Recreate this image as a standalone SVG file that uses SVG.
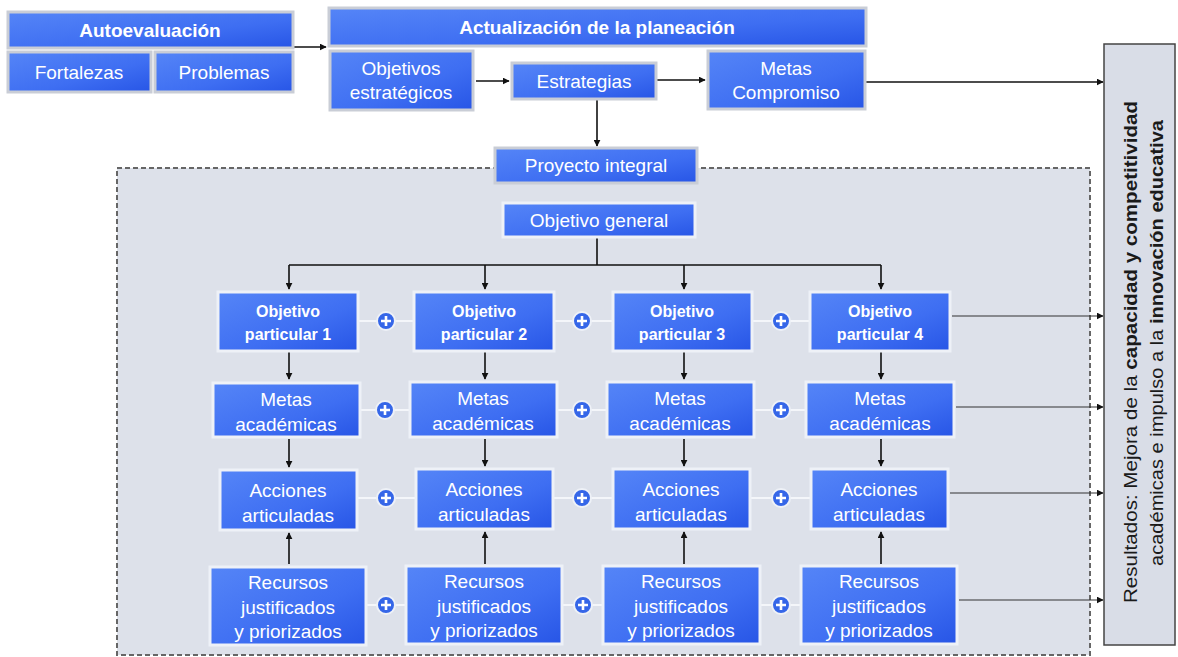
<svg xmlns="http://www.w3.org/2000/svg" width="1178" height="657" viewBox="0 0 1178 657">
<defs>
<linearGradient id="bg" x1="0" y1="0" x2="1" y2="1">
<stop offset="0" stop-color="#5585f7"/>
<stop offset="0.6" stop-color="#3e6ef2"/>
<stop offset="1" stop-color="#2755e6"/>
</linearGradient>
<marker id="ah" viewBox="0 0 10 10" refX="9" refY="5" markerWidth="7" markerHeight="7" markerUnits="userSpaceOnUse" orient="auto">
<path d="M0,0 L10,5 L0,10 z" fill="#111"/>
</marker>
<g id="plus">
<circle r="9" fill="#3566e8" stroke="#eef1f7" stroke-width="2"/>
<path d="M-5,0 H5 M0,-5 V5" stroke="#fff" stroke-width="2.6"/>
</g>
<style>
.b{fill:url(#bg);stroke:#eef1f7;stroke-width:3}
.h{fill:url(#bg);stroke:#c9cdd6;stroke-width:3}
text{font-family:"Liberation Sans",Arial,sans-serif;fill:#fff;text-anchor:middle;font-size:19px}
.bd{font-weight:bold}
.sm{font-size:16px;font-weight:bold}
.c{fill:none;stroke:#111;stroke-width:1.6}
.cg{fill:none;stroke:#333;stroke-width:1.2}
.w{stroke:#f4f6fa;stroke-width:2}
.r{fill:#1a1a1a;text-anchor:middle;font-size:18px}
</style>
</defs>
<rect width="1178" height="657" fill="#fff"/>
<rect id="region" x="117" y="168" width="973" height="487" fill="#dde1ea" stroke="#666" stroke-width="2" stroke-dasharray="5,3"/>

<g id="connectors">
<path class="c" d="M293,47 H326" marker-end="url(#ah)"/>
<path class="c" d="M476,81 H509" marker-end="url(#ah)"/>
<path class="c" d="M657,80 H705" marker-end="url(#ah)"/>
<path class="c" d="M866,82 H1103" marker-end="url(#ah)"/>
<path class="c" d="M597,99 V146" marker-end="url(#ah)"/>
<path class="c" d="M597,238 V265 M289,265 H881"/>
<path class="c" d="M289,265 V289" marker-end="url(#ah)"/>
<path class="c" d="M485,265 V289" marker-end="url(#ah)"/>
<path class="c" d="M684,265 V289" marker-end="url(#ah)"/>
<path class="c" d="M881,265 V289" marker-end="url(#ah)"/>
<path class="c" d="M289,352 V379" marker-end="url(#ah)"/>
<path class="c" d="M485,352 V379" marker-end="url(#ah)"/>
<path class="c" d="M684,352 V379" marker-end="url(#ah)"/>
<path class="c" d="M881,352 V379" marker-end="url(#ah)"/>
<path class="c" d="M289,439 V467" marker-end="url(#ah)"/>
<path class="c" d="M485,439 V466" marker-end="url(#ah)"/>
<path class="c" d="M684,439 V466" marker-end="url(#ah)"/>
<path class="c" d="M881,439 V466" marker-end="url(#ah)"/>
<path class="c" d="M289,564 V533" marker-end="url(#ah)"/>
<path class="c" d="M485,564 V532" marker-end="url(#ah)"/>
<path class="c" d="M684,564 V532" marker-end="url(#ah)"/>
<path class="c" d="M881,564 V532" marker-end="url(#ah)"/>
<path class="cg" d="M952,316 H1103" marker-end="url(#ah)"/>
<path class="cg" d="M956,407 H1103" marker-end="url(#ah)"/>
<path class="cg" d="M950,493 H1103" marker-end="url(#ah)"/>
<path class="cg" d="M959,600 H1103" marker-end="url(#ah)"/>
<path class="w" d="M358,321 H414 M554,321 H613 M752,321 H810"/>
<path class="w" d="M360,410 H410 M557,410 H607 M754,410 H806"/>
<path class="w" d="M357,498 H416 M553,498 H613 M750,498 H811"/>
<path class="w" d="M366,605 H406 M562,605 H603 M760,605 H801"/>
</g>

<g id="autoevaluacion">
<rect class="h" x="8" y="12" width="285" height="36"/>
<text class="bd" x="150" y="37">Autoevaluación</text>
</g>
<g id="fortalezas">
<rect class="h" x="8" y="52" width="143" height="40"/>
<text x="79" y="79">Fortalezas</text>
</g>
<g id="problemas">
<rect class="h" x="155" y="52" width="138" height="40"/>
<text x="224" y="79">Problemas</text>
</g>

<g id="actualizacion">
<rect class="h" x="329" y="8" width="537" height="38"/>
<text class="bd" x="597" y="34">Actualización de la planeación</text>
</g>
<g id="objetivos-estrategicos">
<rect class="h" x="330" y="51" width="143" height="59"/>
<text x="401" y="75">Objetivos</text>
<text x="401" y="99">estratégicos</text>
</g>
<g id="estrategias">
<rect class="h" x="512" y="63" width="144" height="36"/>
<text x="584" y="88">Estrategias</text>
</g>
<g id="metas-compromiso">
<rect class="h" x="708" y="51" width="157" height="58"/>
<text x="786" y="75">Metas</text>
<text x="786" y="99">Compromiso</text>
</g>

<g id="proyecto-integral">
<rect class="h" x="495" y="148" width="202" height="35"/>
<text x="596" y="172">Proyecto integral</text>
</g>
<g id="objetivo-general">
<rect class="b" x="503" y="203" width="192" height="34"/>
<text x="599" y="227">Objetivo general</text>
</g>

<g id="objetivo-particular-1"><rect class="b" x="218" y="292" width="140" height="59"/><text class="sm" x="288" y="317">Objetivo</text><text class="sm" x="288" y="340">particular 1</text></g>
<g id="objetivo-particular-2"><rect class="b" x="414" y="292" width="140" height="59"/><text class="sm" x="484" y="317">Objetivo</text><text class="sm" x="484" y="340">particular 2</text></g>
<g id="objetivo-particular-3"><rect class="b" x="613" y="292" width="139" height="59"/><text class="sm" x="682" y="317">Objetivo</text><text class="sm" x="682" y="340">particular 3</text></g>
<g id="objetivo-particular-4"><rect class="b" x="810" y="292" width="140" height="59"/><text class="sm" x="880" y="317">Objetivo</text><text class="sm" x="880" y="340">particular 4</text></g>

<g id="metas-1"><rect class="b" x="213" y="383" width="147" height="54"/><text x="286" y="406">Metas</text><text x="286" y="431">académicas</text></g>
<g id="metas-2"><rect class="b" x="410" y="382" width="147" height="55"/><text x="483" y="405">Metas</text><text x="483" y="430">académicas</text></g>
<g id="metas-3"><rect class="b" x="607" y="382" width="147" height="55"/><text x="680" y="405">Metas</text><text x="680" y="430">académicas</text></g>
<g id="metas-4"><rect class="b" x="806" y="382" width="148" height="55"/><text x="880" y="405">Metas</text><text x="880" y="430">académicas</text></g>

<g id="acciones-1"><rect class="b" x="220" y="470" width="137" height="60"/><text x="288" y="497">Acciones</text><text x="288" y="522">articuladas</text></g>
<g id="acciones-2"><rect class="b" x="416" y="469" width="137" height="60"/><text x="484" y="496">Acciones</text><text x="484" y="521">articuladas</text></g>
<g id="acciones-3"><rect class="b" x="613" y="469" width="137" height="60"/><text x="681" y="496">Acciones</text><text x="681" y="521">articuladas</text></g>
<g id="acciones-4"><rect class="b" x="811" y="469" width="137" height="60"/><text x="879" y="496">Acciones</text><text x="879" y="521">articuladas</text></g>

<g id="recursos-1"><rect class="b" x="210" y="567" width="156" height="78"/><text x="288" y="589">Recursos</text><text x="288" y="614">justificados</text><text x="288" y="638">y priorizados</text></g>
<g id="recursos-2"><rect class="b" x="406" y="566" width="156" height="78"/><text x="484" y="588">Recursos</text><text x="484" y="613">justificados</text><text x="484" y="637">y priorizados</text></g>
<g id="recursos-3"><rect class="b" x="603" y="566" width="157" height="78"/><text x="681" y="588">Recursos</text><text x="681" y="613">justificados</text><text x="681" y="637">y priorizados</text></g>
<g id="recursos-4"><rect class="b" x="801" y="566" width="156" height="78"/><text x="879" y="588">Recursos</text><text x="879" y="613">justificados</text><text x="879" y="637">y priorizados</text></g>

<g id="plus-icons">
<use href="#plus" x="386" y="321"/><use href="#plus" x="582" y="321"/><use href="#plus" x="781" y="321"/>
<use href="#plus" x="385" y="410"/><use href="#plus" x="582" y="410"/><use href="#plus" x="781" y="410"/>
<use href="#plus" x="386" y="498"/><use href="#plus" x="582" y="498"/><use href="#plus" x="781" y="498"/>
<use href="#plus" x="386" y="605"/><use href="#plus" x="583" y="605"/><use href="#plus" x="781" y="605"/>
</g>

<g id="resultados">
<rect x="1104" y="44" width="71" height="601" fill="#d9dde7" stroke="#444" stroke-width="1.5"/>
<text class="r" transform="translate(1137,352) rotate(-90)" textLength="502" lengthAdjust="spacingAndGlyphs">Resultados: Mejora de la <tspan font-weight="bold">capacidad y competitividad</tspan></text>
<text class="r" transform="translate(1163,343) rotate(-90)" textLength="446" lengthAdjust="spacingAndGlyphs">académicas e impulso a la <tspan font-weight="bold">innovación educativa</tspan></text>
</g>
</svg>
